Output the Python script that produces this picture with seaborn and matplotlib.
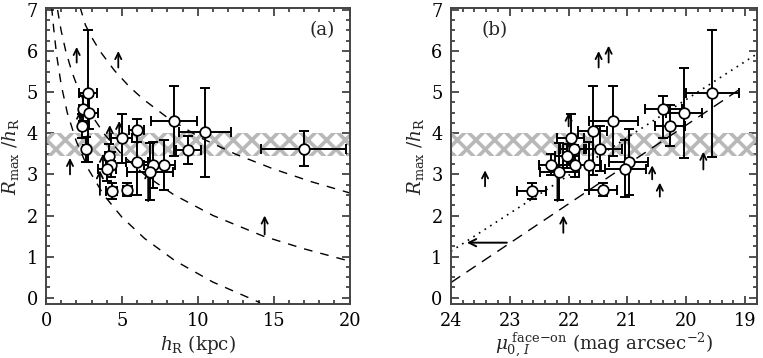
import numpy as np
import pandas as pd
import matplotlib
matplotlib.use('Agg')
import matplotlib.pyplot as plt
import seaborn as sns
from matplotlib.ticker import MultipleLocator

DPI = 112
K = 100.0 / DPI  # keeps pixel sizes the same as a 100-dpi layout

sns.set_theme(style='ticks')
plt.rcParams['font.family'] = ['DejaVu Serif']
plt.rcParams['mathtext.fontset'] = 'dejavuserif'
plt.rcParams['hatch.linewidth'] = 2.6 * K
plt.rcParams['hatch.color'] = '#b8b8b8'

# ---------------- panel (a) data ----------------
a_h = [2.78, 2.45, 2.83, 2.35, 2.61, 4.98, 5.97, 8.42, 10.46, 9.36, 16.97, 6.0, 7.06, 7.78, 6.84, 4.16, 4.26, 4.0, 4.32, 5.35]
a_R = [4.97, 4.60, 4.50, 4.18, 3.61, 3.88, 4.07, 4.29, 4.02, 3.59, 3.63, 3.31, 3.23, 3.23, 3.07, 3.45, 3.24, 3.14, 2.59, 2.63]
a_xerr = [0.6, 0.3, 0.6, 0.2, 0.2, 0.7, 0.5, 1.5, 1.7, 0.83, 2.8, 0.75, 0.6, 0.7, 1.5, 0.3, 0.3, 0.6, 0.35, 0.3]
a_yerr_lo = [1.68, 0.3, 0.4, 0.3, 0.3, 0.6, 0.27, 0.85, 1.08, 0.34, 0.42, 0.8, 0.55, 0.6, 0.7, 0.3, 0.3, 0.3, 0.2, 0.15]
a_yerr_hi = [1.53, 0.3, 0.4, 0.3, 0.3, 0.6, 0.27, 0.85, 1.08, 0.34, 0.42, 0.8, 0.55, 0.6, 0.7, 0.3, 0.3, 0.3, 0.2, 0.15]

arr_a_h = [2.02, 4.76, 1.58, 14.4, 2.24, 4.2, 4.82, 3.75, 6.73, 3.55]
arr_a_y0 = [5.72, 5.6, 3.0, 1.54, 4.2, 3.85, 3.9, 3.1, 2.35, 2.5]
arr_a_y1 = [6.1, 6.0, 3.4, 2.0, 4.55, 4.2, 4.3, 3.5, 3.1, 3.1]

curve1_h = [2.24, 2.6, 3.0, 3.55, 4.5, 5.5, 6.4, 8.0, 10.13, 12.5, 15.0, 17.5, 20.0]
curve1_R = [7.07, 6.63, 6.34, 6.0, 5.53, 5.13, 4.83, 4.38, 3.9, 3.49, 3.13, 2.82, 2.55]
curve2_h = [0.76, 1.0, 1.3, 1.7, 2.2, 2.9, 3.8, 5.0, 6.5, 8.4, 11.0, 14.3, 17.0, 20.0]
curve2_R = [7.0, 6.49, 6.0, 5.5, 5.0, 4.5, 4.0, 3.48, 2.99, 2.51, 2.0, 1.5, 1.19, 0.89]
curve3_h = [0.37, 0.5, 0.7, 1.0, 1.4, 2.0, 2.8, 3.8, 5.0, 6.5, 8.5, 11.0, 14.1]
curve3_R = [7.07, 6.57, 5.9, 5.18, 4.5, 3.8, 3.12, 2.5, 1.96, 1.44, 0.9, 0.38, -0.12]

# ---------------- panel (b) data ----------------
b_mu = [19.56, 20.39, 20.04, 20.28, 21.24, 21.59, 21.47, 20.98, 21.04, 21.96, 21.94, 21.90, 22.03, 22.30, 21.89, 21.65, 22.16, 22.63, 21.42]
b_R = [4.97, 4.60, 4.50, 4.18, 4.29, 4.06, 3.63, 3.31, 3.14, 3.88, 3.61, 3.61, 3.45, 3.24, 3.24, 3.23, 3.07, 2.59, 2.63]
b_xerr = [0.45, 0.31, 0.3, 0.25, 0.42, 0.25, 0.37, 0.33, 0.35, 0.23, 0.2, 0.2, 0.2, 0.2, 0.2, 0.2, 0.33, 0.25, 0.24]
b_yerr_lo = [1.55, 0.72, 1.1, 0.5, 0.85, 1.08, 0.55, 0.8, 0.7, 0.6, 0.3, 0.3, 0.3, 0.25, 0.3, 0.6, 0.7, 0.2, 0.15]
b_yerr_hi = [1.53, 0.3, 1.1, 0.5, 0.85, 1.08, 0.55, 0.8, 0.7, 0.6, 0.3, 0.3, 0.3, 0.25, 0.3, 0.55, 0.7, 0.2, 0.15]

arr_b_mu = [21.49, 21.32, 23.42, 22.09, 20.58, 20.45, 19.71, 22.0, 22.19]
arr_b_y0 = [5.6, 5.72, 2.71, 1.58, 2.88, 2.46, 3.12, 4.17, 2.35]
arr_b_y1 = [6.0, 6.13, 3.1, 2.0, 3.22, 2.8, 3.55, 4.5, 3.24]

left_arrow_mu = [23.05, 23.73]
left_arrow_R = [1.34, 1.34]

dotted_mu = [24.0, 18.8]
dotted_R = [1.13, 5.93]
dashed_mu = [24.0, 19.05]
dashed_R = [0.37, 5.11]

band_R = [3.45, 4.0]

# ---------------- figure ----------------
fig = plt.figure(figsize=(763 / DPI, 358 / DPI), dpi=DPI)
ax1 = fig.add_axes([0.0603, 0.151, 0.398, 0.827])
ax2 = fig.add_axes([0.591, 0.151, 0.401, 0.827])

FS_TICK = 12.8 * K
FS_LAB = 13.2 * K

def style_axes(ax):
    for s in ax.spines.values():
        s.set_color('#444444')
        s.set_linewidth(1.4 * K)
    ax.tick_params(which='both', direction='in', top=True, right=True,
                   color='#222222', labelsize=FS_TICK, labelcolor='black', width=1.1 * K)
    ax.tick_params(which='major', length=6 * K, pad=6 * K)
    ax.tick_params(which='minor', length=3 * K)
    ax.yaxis.set_major_locator(MultipleLocator(1))
    ax.yaxis.set_minor_locator(MultipleLocator(0.25))
    ax.set_ylim(-0.15, 7.05)
    ax.set_facecolor('white')

def draw_points(ax, x, y, xerr, ylo, yhi):
    ax.errorbar(x, y, xerr=xerr, yerr=[ylo, yhi], fmt='none', ecolor='black',
                elinewidth=1.4 * K, capsize=3.5 * K, capthick=1.4 * K, zorder=3)
    sns.scatterplot(x=x, y=y, ax=ax, marker='o', s=58 * K * K, color='white',
                    edgecolor='black', linewidth=1.25 * K, zorder=5, legend=False)

def draw_arrows(ax, x, y0, y1):
    for xi, a, b in zip(x, y0, y1):
        ax.annotate('', xy=(xi, b), xytext=(xi, a),
                    arrowprops=dict(arrowstyle='->', lw=1.3 * K, color='black',
                                    mutation_scale=11 * K, shrinkA=0, shrinkB=0),
                    zorder=4)

# panel (a)
ax = ax1
ax.fill_between([0, 20], band_R[0], band_R[1], facecolor='none',
                edgecolor='#b8b8b8', hatch='xx', linewidth=0, zorder=1)
for ch, cr in [(curve1_h, curve1_R), (curve2_h, curve2_R), (curve3_h, curve3_R)]:
    sns.lineplot(x=ch, y=cr, ax=ax, color='black', linewidth=1.0 * K, sort=False,
                 estimator=None)
    ax.lines[-1].set_dashes([7 * K, 6.5 * K])
draw_arrows(ax, arr_a_h, arr_a_y0, arr_a_y1)
draw_points(ax, a_h, a_R, a_xerr, a_yerr_lo, a_yerr_hi)
style_axes(ax)
ax.set_xlim(0, 20)
ax.xaxis.set_major_locator(MultipleLocator(5))
ax.xaxis.set_minor_locator(MultipleLocator(1))
ax.set_xlabel(r'$h_{\rm R}$ (kpc)', fontsize=FS_LAB, labelpad=2 * K)
ax.set_ylabel(r'$R_{\rm max}\ /h_{\rm R}$', fontsize=FS_LAB, labelpad=4 * K)
ax.text(18.2, 6.5, '(a)', fontsize=FS_LAB, ha='center', va='center')

# panel (b)
ax = ax2
ax.fill_between([24, 18.8], band_R[0], band_R[1], facecolor='none',
                edgecolor='#b8b8b8', hatch='xx', linewidth=0, zorder=1)
sns.lineplot(x=dotted_mu, y=dotted_R, ax=ax, color='black', linewidth=1.2 * K,
             sort=False, estimator=None)
ax.lines[-1].set_linestyle((0, (1, 3)))
sns.lineplot(x=dashed_mu, y=dashed_R, ax=ax, color='black', linewidth=1.0 * K,
             sort=False, estimator=None)
ax.lines[-1].set_dashes([9 * K, 6 * K])
draw_arrows(ax, arr_b_mu, arr_b_y0, arr_b_y1)
ax.annotate('', xy=(left_arrow_mu[1], left_arrow_R[1]), xytext=(left_arrow_mu[0], left_arrow_R[0]),
            arrowprops=dict(arrowstyle='->', lw=1.4 * K, color='black', mutation_scale=13 * K,
                            shrinkA=0, shrinkB=0))
draw_points(ax, b_mu, b_R, b_xerr, b_yerr_lo, b_yerr_hi)
style_axes(ax)
ax.set_xlim(24, 18.8)
ax.xaxis.set_major_locator(MultipleLocator(1))
ax.xaxis.set_minor_locator(MultipleLocator(0.2))
ax.set_xlabel(r'$\mu_{0,\,I}^{\ \rm face{-}on}$ (mag arcsec$^{-2}$)', fontsize=FS_LAB, labelpad=0)
ax.set_ylabel(r'$R_{\rm max}\ /h_{\rm R}$', fontsize=FS_LAB, labelpad=4 * K)
ax.text(23.25, 6.5, '(b)', fontsize=FS_LAB, ha='center', va='center')

fig.savefig('out.png', dpi=DPI)
